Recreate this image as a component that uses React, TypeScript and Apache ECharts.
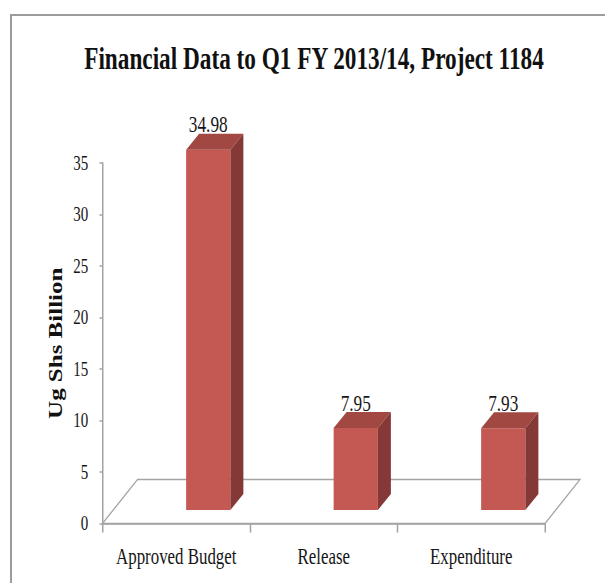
import React, { useEffect, useRef } from "react";
import * as echarts from "echarts";

const titleText = "Financial Data to Q1 FY 2013/14, Project 1184";
const yAxisName = "Ug Shs Billion";
const categories = ["Approved Budget", "Release", "Expenditure"];
const values = [34.98, 7.95, 7.93];
const yMin = 0;
const yMax = 35;
const yStep = 5;

// the reference is horizontally condensed; draw wider and squeeze with CSS
const S = 0.75;
const W = 605 / S;
const H = 583;
const X = (rx: number) => rx / S;

const FONT = '"Liberation Serif", "Times New Roman", serif';
const GRAY = "#a3a3a3";
const TEXT = "#161616";

const FRONT = "#c45853";
const TOP = "#a14843";
const SIDE = "#853936";

export default function App() {
  const ref = useRef<HTMLDivElement>(null);

  useEffect(() => {
    const chart = echarts.init(ref.current!, null, { renderer: "svg", width: W, height: H });

    const barData = values.map((v, i) => [i, v]);

    const option: any = {
      animation: false,
      backgroundColor: "#ffffff",
      title: {
        text: titleText,
        left: X(314),
        top: 43,
        padding: 0,
        textAlign: "center",
        textStyle: { fontFamily: FONT, fontSize: 31, fontWeight: "bold", color: "#111111" },
      },
      graphic: [
        {
          type: "line",
          shape: { x1: X(10), y1: 15, x2: W, y2: 15 },
          style: { stroke: "#9c9c9c", lineWidth: 2 },
        },
        {
          type: "line",
          shape: { x1: X(11), y1: 15, x2: X(11), y2: H },
          style: { stroke: "#9c9c9c", lineWidth: 2.7 },
        },
      ],
      grid: {
        left: X(102.5),
        right: W - X(545),
        top: 163,
        bottom: H - 523.5,
        containLabel: false,
      },
      xAxis: {
        type: "category",
        data: categories,
        boundaryGap: true,
        axisLine: { show: true, lineStyle: { color: GRAY, width: 1.5 } },
        axisTick: { show: true, length: 9, lineStyle: { color: GRAY, width: 2 } },
        axisLabel: { interval: 0, hideOverlap: false, margin: 21, fontSize: 22.5, fontFamily: FONT, color: TEXT },
        splitLine: { show: false },
      },
      yAxis: {
        type: "value",
        min: yMin,
        max: yMax,
        interval: yStep,
        name: yAxisName,
        nameLocation: "middle",
        nameGap: 46,
        nameTextStyle: { fontFamily: FONT, fontSize: 25, fontWeight: "bold", color: "#111111" },
        axisLine: { show: true, lineStyle: { color: GRAY, width: 2 } },
        axisTick: { show: true, length: 4, lineStyle: { color: GRAY, width: 1.5 } },
        axisLabel: { margin: 19, fontSize: 20, fontFamily: FONT, color: TEXT },
        splitLine: { show: false },
      },
      series: [
        {
          type: "custom",
          name: "floor",
          data: [[0, 0]],
          silent: true,
          renderItem: (params: any) => {
            const cs = params.coordSys;
            const fdx = X(35);
            const fdy = -44;
            const x0 = cs.x;
            const x1 = cs.x + cs.width;
            const y0 = cs.y + cs.height;
            return {
              type: "polygon",
              shape: {
                points: [
                  [x0, y0],
                  [x1, y0],
                  [x1 + fdx, y0 + fdy],
                  [x0 + fdx, y0 + fdy],
                ],
              },
              style: { fill: "none", stroke: GRAY, lineWidth: 1.5 },
            };
          },
        },
        {
          type: "custom",
          name: "Ug Shs Billion",
          data: barData,
          encode: { x: 0, y: 1 },
          renderItem: (params: any, api: any) => {
            const idx = api.value(0);
            const v = api.value(1);
            const topPt = api.coord([idx, v]);
            const basePt = api.coord([idx, 0]);
            const band = api.size([1, 0])[0];
            const w = band * 0.3;
            const ox = band * 0.217;
            const oy = -13.5;
            const dx = X(13);
            const dy = -16;
            const xl = basePt[0] + ox - w / 2;
            const xr = xl + w;
            const yb = basePt[1] + oy;
            const yt = topPt[1] + oy;
            return {
              type: "group",
              children: [
                {
                  type: "rect",
                  shape: { x: xl, y: yt, width: w, height: yb - yt },
                  style: { fill: FRONT },
                },
                {
                  type: "polygon",
                  shape: {
                    points: [
                      [xl, yt],
                      [xr, yt],
                      [xr + dx, yt + dy],
                      [xl + dx, yt + dy],
                    ],
                  },
                  style: { fill: TOP },
                },
                {
                  type: "polygon",
                  shape: {
                    points: [
                      [xr, yt],
                      [xr + dx, yt + dy],
                      [xr + dx, yb + dy],
                      [xr, yb],
                    ],
                  },
                  style: { fill: SIDE },
                },
                {
                  type: "text",
                  style: {
                    text: values[idx].toFixed(2),
                    x: (xl + xr) / 2,
                    y: yt + dy + 2.2,
                    align: "center",
                    verticalAlign: "bottom",
                    fontSize: 23,
                    fontFamily: FONT,
                    fill: TEXT,
                  },
                },
              ],
            };
          },
        },
      ],
    };

    chart.setOption(option);
    return () => chart.dispose();
  }, []);

  return (
    <div
      style={{
        position: "fixed",
        left: 0,
        top: 0,
        width: 605,
        height: 583,
        overflow: "hidden",
        background: "#ffffff",
      }}
    >
      <div
        ref={ref}
        style={{ width: W, height: H, transform: `scaleX(${S})`, transformOrigin: "0 0" }}
      />
    </div>
  );
}
